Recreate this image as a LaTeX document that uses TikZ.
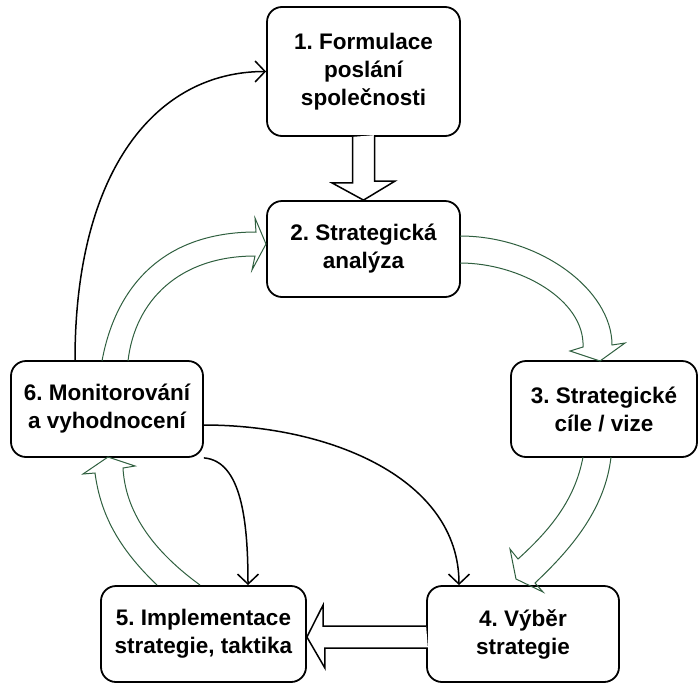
\documentclass[tikz,border=0pt]{standalone}
\usepackage{fontspec}
\setmainfont{Liberation Sans}
\usetikzlibrary{arrows.meta,calc}
\frenchspacing
\definecolor{arrgreen}{RGB}{47,95,63}
\tikzset{
  box/.style={draw=black, line width=1.8pt, rounded corners=15pt, fill=white,
    align=center, inner sep=0pt,
    font=\fontsize{22.5}{28}\selectfont\bfseries\frenchspacing},
  conn/.style={draw=black, line width=1.5pt, -{Straight Barb[length=10pt,width=21pt]}},
  blockarrow/.style={draw=black, line width=1.5pt, fill=white, line join=miter},
  greenarrow/.style={draw=arrgreen, line width=1pt, line join=miter}
}
\begin{document}
\begin{tikzpicture}[x=1pt,y=-1pt]
\useasboundingbox (0,0) rectangle (698,683);

% boxes
\node[box, minimum width=193pt, minimum height=129pt] (b1) at (363.5,71.5) {1. Formulace\\poslání\\společnosti};
\node[box, minimum width=193pt, minimum height=96pt] (b2) at (363.5,249) {2. Strategická\\analýza};
\node[box, minimum width=186pt, minimum height=96pt] (b3) at (604,409) {3. Strategické\\cíle / vize};
\node[box, minimum width=192pt, minimum height=96pt] (b4) at (523,634) {4. Výběr\\strategie};
\node[box, minimum width=205pt, minimum height=96pt] (b5) at (203.5,634) {5. Implementace\\strategie, taktika};
\node[box, minimum width=192pt, minimum height=96pt] (b6) at (107,409) {6. Monitorování\\a vyhodnocení};

% hollow block arrows
\draw[blockarrow] ($(b1.south)+(-11,0)$) -- ++(0,46) -- ++(-20.5,0) -- (b2.north)
  -- ++(31.5,-19) -- ++(-20.5,0) -- ++(0,-46);
\draw[blockarrow] ($(b4.west)+(0,-8)$) -- ++(-103,0) -- ++(0,-21) -- ($(b5.east)+(0,3)$)
  -- ++(18,31) -- ++(0,-20) -- ++(103,0);

% green curved hollow arrows
\draw[greenarrow] (460,236) .. controls (540,236) and (612,290) .. (612,345)
  -- (625,343) -- (600,361) -- (570,351) -- (583,347)
  .. controls (585,300) and (520,263) .. (460,263);
\draw[greenarrow] (611,457) .. controls (605,510) and (570,550) .. (535,583)
  -- (543,592) -- (516,579) -- (510,549) -- (518,559)
  .. controls (550,530) and (575,500) .. (583,457);
\draw[greenarrow] (200,585) .. controls (145,545) and (125,505) .. (123,468)
  -- (135,466) -- (108,457) -- (83,474) -- (95,473)
  .. controls (100,510) and (115,545) .. (157,585);
\draw[greenarrow] (102,361) .. controls (115,290) and (160,232) .. (256,232)
  -- (255,218) -- (266,244) -- (252,270) -- (255,256)
  .. controls (180,256) and (135,300) .. (128,361);

% black connectors
\draw[conn] ($(b6.north)+(-32,0)$) .. controls +(0,-190) and +(-110,0) .. (b1.west);
\draw[conn] ($(b6.east)+(0,16)$) .. controls +(127,0) and +(0,-106) .. ($(b4.north)+(-64,0)$);
\draw[conn] (b6.south east) .. controls +(37,3) and +(0,-66) .. ($(b5.north)+(44.5,0)$);
\end{tikzpicture}
\end{document}
